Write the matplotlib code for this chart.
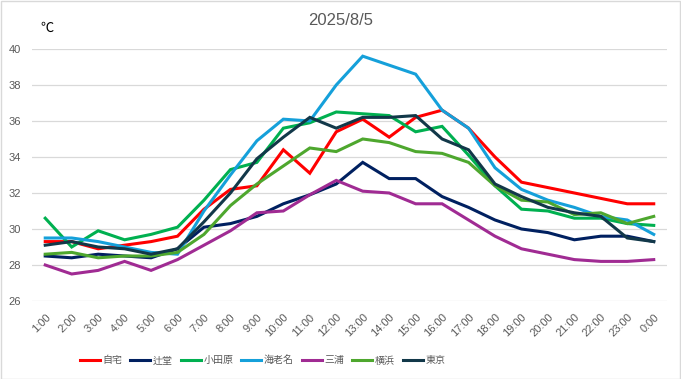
import matplotlib.pyplot as plt
from matplotlib.patches import Rectangle

plt.rcParams['font.family'] = ['Liberation Sans', 'Noto Sans CJK JP', 'DejaVu Sans']

# ── Data: hourly temperature (°C), 2025/8/5 ──────────────────────────
HOURS = [f"{h}:00" for h in range(1, 24)] + ["0:00"]

JITAKU = [29.3, 29.3, 28.9, 29.1, 29.3, 29.6, 31.1, 32.2, 32.4, 34.4, 33.1, 35.4,
          36.1, 35.1, 36.2, 36.6, 35.6, 34.0, 32.6, 32.3, 32.0, 31.7, 31.4, 31.4]
TSUJIDO = [28.5, 28.4, 28.6, 28.5, 28.4, 28.9, 30.1, 30.3, 30.7, 31.4, 31.9, 32.5,
           33.7, 32.8, 32.8, 31.8, 31.2, 30.5, 30.0, 29.8, 29.4, 29.6, 29.6, 29.3]
ODAWARA = [30.6, 29.0, 29.9, 29.4, 29.7, 30.1, 31.6, 33.3, 33.7, 35.6, 35.9, 36.5,
           36.4, 36.3, 35.4, 35.7, 34.1, 32.4, 31.1, 31.0, 30.6, 30.6, 30.3, 30.2]
EBINA = [29.5, 29.5, 29.3, 29.0, 28.7, 28.6, 31.0, 33.0, 34.9, 36.1, 36.0, 38.0,
         39.6, 39.1, 38.6, 36.6, 35.6, 33.4, 32.2, 31.6, 31.2, 30.7, 30.5, 29.7]
MIURA = [28.0, 27.5, 27.7, 28.2, 27.7, 28.3, 29.1, 29.9, 30.9, 31.0, 31.9, 32.7,
         32.1, 32.0, 31.4, 31.4, 30.5, 29.6, 28.9, 28.6, 28.3, 28.2, 28.2, 28.3]
YOKOHAMA = [28.6, 28.7, 28.4, 28.5, 28.5, 28.7, 29.7, 31.3, 32.5, 33.5, 34.5, 34.3,
            35.0, 34.8, 34.3, 34.2, 33.7, 32.4, 31.6, 31.5, 30.8, 30.9, 30.3, 30.7]
TOKYO = [29.1, 29.3, 29.0, 28.9, 28.6, 28.9, 30.4, 32.0, 33.9, 35.1, 36.2, 35.6,
         36.2, 36.2, 36.3, 35.0, 34.4, 32.5, 31.8, 31.2, 30.9, 30.7, 29.5, 29.3]

SERIES = [
    ("自宅", JITAKU, "#FF0000"),
    ("辻堂", TSUJIDO, "#002060"),
    ("小田原", ODAWARA, "#00B050"),
    ("海老名", EBINA, "#15A0DA"),
    ("三浦", MIURA, "#A02B93"),
    ("横浜", YOKOHAMA, "#4EA72E"),
    ("東京", TOKYO, "#123849"),
]

GRAY = "#595959"

fig = plt.figure(figsize=(6.81, 3.79), dpi=100)
ax = fig.add_axes([0.047, 0.2058, 0.9324, 0.665])

x = range(len(HOURS))
for name, vals, color in SERIES:
    ax.plot(x, vals, color=color, linewidth=2.2, label=name, solid_joinstyle="miter")

ax.set_xlim(-0.5, len(HOURS) - 0.5)
ax.set_ylim(26, 40)
ax.set_yticks(range(26, 41, 2))
ax.grid(axis="y", color="#D9D9D9", linewidth=0.9)
ax.set_axisbelow(True)
for s in ax.spines.values():
    s.set_visible(False)

ax.set_xticks(list(x))
ax.set_xticklabels(HOURS, rotation=45, ha="right", rotation_mode="anchor")
ax.tick_params(axis="both", length=0, labelsize=8, labelcolor=GRAY)
ax.tick_params(axis="x", pad=8)
ax.tick_params(axis="y", pad=8)

fig.text(0.5, 0.945, "2025/8/5", ha="center", va="center", fontsize=12, color=GRAY)
fig.text(0.069, 0.923, "℃", ha="center", va="center", fontsize=9.5, color="black")

ax.legend(loc="center", bbox_to_anchor=(0.363, -0.236), ncol=7, frameon=False,
          fontsize=7.2, labelcolor=GRAY, handlelength=2.0, handletextpad=0.25,
          columnspacing=0.8)

fig.patches.append(Rectangle((0.001, 0.001), 0.997, 0.996, transform=fig.transFigure,
                             fill=False, edgecolor="#D9D9D9", linewidth=1))

fig.savefig("out.png", dpi=100)
